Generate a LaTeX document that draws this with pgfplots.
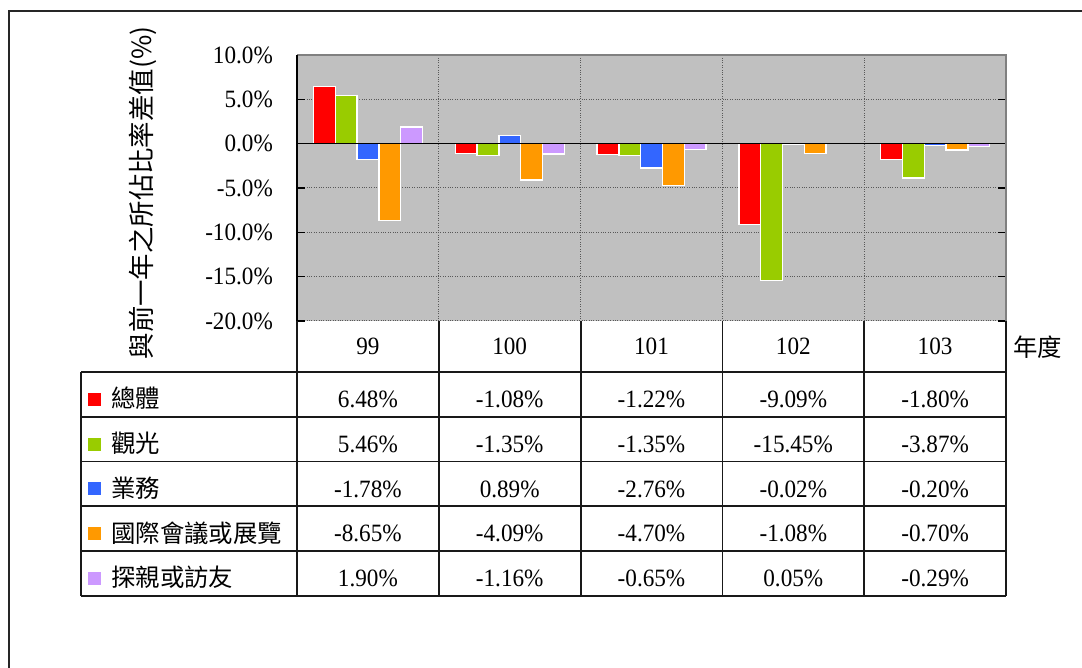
\documentclass[border=0pt]{standalone}
\usepackage{fontspec}
\setmainfont[FakeStretch=0.93]{Liberation Serif}
\newfontfamily\cjk{Noto Sans CJK TC}
\usepackage{pgfplots}
\pgfplotsset{compat=1.18}
\definecolor{cRed}{HTML}{FF0000}
\definecolor{cGreen}{HTML}{99CC00}
\definecolor{cBlue}{HTML}{3366FF}
\definecolor{cOrange}{HTML}{FF9900}
\definecolor{cLav}{HTML}{CC99FF}
\definecolor{bgGray}{HTML}{C0C0C0}
\newcommand{\numfont}{\fontsize{25}{25}\selectfont}
\newcommand{\cjkfont}{\cjk\fontsize{24.5}{24.5}\selectfont}
\begin{document}
\begin{tikzpicture}
\path[use as bounding box] (0,0) rectangle (1082bp,668bp);
\draw[line width=2bp, black!85] (9bp,-2bp) -- (9bp,657bp) -- (1084bp,657bp);
\begin{axis}[
  at={(297bp,347bp)}, anchor=south west,
  scale only axis, width=709bp, height=266bp,
  xmin=-0.5, xmax=4.5, ymin=-20, ymax=10,
  ybar=0pt, bar width=21.8bp,
  axis background/.style={fill=bgGray},
  axis line style={draw=none},
  xtick={0.5,1.5,2.5,3.5}, xticklabels={},
  xmajorgrids, ymajorgrids,
  major grid style={black!65, dotted, line width=1bp},
  ytick={-20,-15,...,10},
  tick align=inside,
  x tick style={draw=none},
  y tick style={black, line width=1.3bp},
  major tick length=8bp,
  /pgf/number format/assume math mode=true,
  yticklabel={\pgfmathprintnumber[fixed,fixed zerofill,precision=1]{\tick}\%},
  yticklabel style={font=\numfont, inner sep=0pt, anchor=east},
  yticklabel shift=24bp,
  clip=false,
  every axis plot/.append style={draw=white, line width=1.4bp},
]
\addplot[fill=cRed] coordinates {(0,6.48) (1,-1.08) (2,-1.22) (3,-9.09) (4,-1.80)};
\addplot[fill=cGreen] coordinates {(0,5.46) (1,-1.35) (2,-1.35) (3,-15.45) (4,-3.87)};
\addplot[fill=cBlue] coordinates {(0,-1.78) (1,0.89) (2,-2.76) (3,-0.02) (4,-0.20)};
\addplot[fill=cOrange] coordinates {(0,-8.65) (1,-4.09) (2,-4.70) (3,-1.08) (4,-0.70)};
\addplot[fill=cLav] coordinates {(0,1.90) (1,-1.16) (2,-0.65) (3,0.05) (4,-0.29)};
\draw[black, line width=1.5bp] (axis cs:-0.5,0) -- (axis cs:4.5,0);
\draw[black!50, line width=1.5bp] (rel axis cs:0,1) -- (rel axis cs:1,1) -- (rel axis cs:1,0);
\draw[black, line width=1.5bp] (rel axis cs:0,1) -- (rel axis cs:0,0);
\end{axis}
% data table grid
\foreach \y in {296,251.2,206.4,161.6,116.8,72}
  \draw[line width=1.8bp, black!90] (81bp,\y bp) -- (1006bp,\y bp);
\draw[line width=1.8bp, black!90] (81bp,296bp) -- (81bp,72bp);
\foreach \x in {297,438.8,580.6,722.4,864.2,1006}
  \draw[line width=1.8bp, black!90] (\x bp,347bp) -- (\x bp,72bp);
% header
\foreach \x/\t in {367.9/99,509.7/100,651.5/101,793.3/102,935.1/103}
  \node[font=\numfont, inner sep=0pt] at (\x bp,321.5bp) {\t};
\node[font=\cjkfont, inner sep=0pt] at (1037.5bp,321bp) {年度};
% y label
\node[rotate=90, inner sep=0pt, font=\cjk\fontsize{26.5}{26.5}\selectfont] at (143bp,475bp) {與前一年之所佔比率差值(\%)};
% rows
\foreach \yc/\col/\name/\a/\b/\c/\d/\e in {
  273.6/cRed/總體/6.48/-1.08/-1.22/-9.09/-1.80,
  228.8/cGreen/觀光/5.46/-1.35/-1.35/-15.45/-3.87,
  184/cBlue/業務/-1.78/0.89/-2.76/-0.02/-0.20,
  139.2/cOrange/國際會議或展覽/-8.65/-4.09/-4.70/-1.08/-0.70,
  94.4/cLav/探親或訪友/1.90/-1.16/-0.65/0.05/-0.29}{
  \fill[\col] (88bp,\yc bp-11.5bp) rectangle (101bp,\yc bp+1.5bp);
  \node[font=\cjkfont, inner sep=0pt, anchor=west] at (111bp,\yc bp-4bp) {\name};
  \node[font=\numfont, inner sep=0pt] at (367.9bp,\yc bp-5bp) {\a\%};
  \node[font=\numfont, inner sep=0pt] at (509.7bp,\yc bp-5bp) {\b\%};
  \node[font=\numfont, inner sep=0pt] at (651.5bp,\yc bp-5bp) {\c\%};
  \node[font=\numfont, inner sep=0pt] at (793.3bp,\yc bp-5bp) {\d\%};
  \node[font=\numfont, inner sep=0pt] at (935.1bp,\yc bp-5bp) {\e\%};
}
\end{tikzpicture}
\end{document}
